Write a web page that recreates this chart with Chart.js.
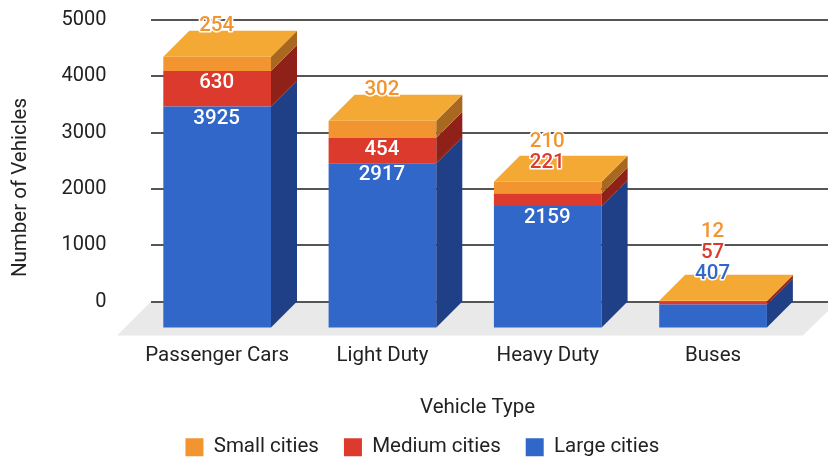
<!DOCTYPE html>
<html>
<head>
<meta charset="utf-8">
<title>Vehicles by type</title>
<script src="https://cdn.jsdelivr.net/npm/chart.js@4/dist/chart.umd.min.js"></script>
<style>
  html, body { margin: 0; padding: 0; background: #fff; }
  canvas { display: block; }
</style>
</head>
<body>
<canvas id="chart" width="828" height="457"></canvas>
<script>
const categories = ["Passenger Cars", "Light Duty", "Heavy Duty", "Buses"];
const largeCities = [3925, 2917, 2159, 407];
const mediumCities = [630, 454, 221, 57];
const smallCities = [254, 302, 210, 12];
const yTicks = [0, 1000, 2000, 3000, 4000, 5000];

const FONT = "Roboto, sans-serif";
const TEXT = "#222";
const DEPTH_X = 26;
const DEPTH_Y = 26;

const FACES = [
  { front: "#3267ca", side: "#1f3f87", top: "#3267ca", label: "#3267ca" },
  { front: "#dc3a2c", side: "#8f2118", top: "#dc3a2c", label: "#dc3a2c" },
  { front: "#f2942f", side: "#a8681f", top: "#f3a933", label: "#f2942f" },
];

function poly(ctx, pts, fill) {
  ctx.beginPath();
  pts.forEach(([x, y], i) => (i ? ctx.lineTo(x, y) : ctx.moveTo(x, y)));
  ctx.closePath();
  ctx.fillStyle = fill;
  ctx.fill();
}

/* ── 3D look: floor, back wall grid, extruded faces ────── */
const depthPlugin = {
  id: "depth",
  beforeDatasetsDraw(chart) {
    const { ctx, chartArea, scales: { y } } = chart;
    const y0 = y.getPixelForValue(0);
    const left = chartArea.left + 16.5;

    // floor
    poly(ctx, [
      [left, y0],
      [chartArea.right + 42, y0],
      [chartArea.right + 7, y0 + 34],
      [chartArea.left - 17.5, y0 + 34],
    ], "#e9e9e9");

    // grid lines sit on the back wall and run off the right edge
    ctx.save();
    ctx.strokeStyle = "#555";
    ctx.lineWidth = 2;
    for (const t of y.ticks) {
      const py = Math.round(y.getPixelForValue(t.value));
      ctx.beginPath();
      ctx.moveTo(left, py);
      ctx.lineTo(chart.width, py);
      ctx.stroke();
    }
    ctx.restore();

    // bars are the front plane, so push them down by the depth
    ctx.save();
    ctx.translate(0, DEPTH_Y);
  },
  afterDatasetsDraw(chart) {
    const { ctx } = chart;
    ctx.restore();

    chart.data.datasets.forEach((ds, i) => {
      const face = FACES[i];
      chart.getDatasetMeta(i).data.forEach((bar) => {
        const r = bar.x + bar.width / 2;
        const l = bar.x - bar.width / 2;
        const top = bar.y + DEPTH_Y;
        const bottom = bar.base + DEPTH_Y;
        poly(ctx, [
          [r, top], [r + DEPTH_X, top - DEPTH_Y],
          [r + DEPTH_X, bottom - DEPTH_Y], [r, bottom],
        ], face.side);
        if (i === chart.data.datasets.length - 1) {
          poly(ctx, [
            [l, top], [l + DEPTH_X, top - DEPTH_Y],
            [r + DEPTH_X, top - DEPTH_Y], [r, top],
          ], face.top);
        }
      });
    });
  },
  afterLayout(chart) {
    // pin the value scale to the back wall, the auto layout leaves it too short
    const y = chart.scales.y;
    y.top = chart.chartArea.top = 20;
    y.bottom = chart.chartArea.bottom = 301.5;
    y.height = chart.chartArea.height = y.bottom - y.top;
    y.configure();

    // legend is not centred on the canvas in the original
    const legend = chart.legend;
    legend.left += 24.5;
    legend.right += 24.5;
    legend.top = 412;
    legend.bottom = 457;
  },
  afterDraw(chart) {
    const { ctx, scales: { x } } = chart;
    ctx.save();
    ctx.textAlign = "center";
    ctx.textBaseline = "middle";
    ctx.lineJoin = "round";

    // value labels: white inside tall segments, otherwise coloured above the bar
    ctx.font = "500 20.5px " + FONT;
    categories.forEach((_, c) => {
      let prev = Infinity;
      chart.data.datasets.forEach((ds, i) => {
        const bar = chart.getDatasetMeta(i).data[c];
        const top = bar.y + DEPTH_Y;
        const inside = bar.base - bar.y > 24;
        let py;
        if (inside) {
          py = top + 12;
        } else {
          py = Math.min(top - 30.5, prev - 21);
          prev = py;
        }
        if (!inside) {
          ctx.strokeStyle = "#fff";
          ctx.lineWidth = 3;
          ctx.strokeText(ds.data[c], bar.x - 0.5, py);
        }
        ctx.fillStyle = inside ? "#fff" : FACES[i].label;
        ctx.fillText(ds.data[c], bar.x - 0.5, py);
      });
    });

    // axis titles are centred on the floor, not on the scales
    ctx.font = "20.5px " + FONT;
    ctx.fillStyle = TEXT;
    ctx.fillText("Vehicle Type", x.left + (x.right - x.left) / 2 + 12.5, 407.5);
    ctx.translate(21, 187.5);
    ctx.rotate(-Math.PI / 2);
    ctx.fillText("Number of Vehicles", 0, 0);
    ctx.restore();
  },
};

new Chart(document.getElementById("chart"), {
  type: "bar",
  data: {
    labels: categories,
    datasets: [
      { label: "Large cities", data: largeCities, backgroundColor: FACES[0].front, clip: false },
      { label: "Medium cities", data: mediumCities, backgroundColor: FACES[1].front, clip: false },
      { label: "Small cities", data: smallCities, backgroundColor: FACES[2].front, clip: false },
    ],
  },
  options: {
    responsive: false,
    animation: false,
    layout: { padding: { left: 0, right: 32.3, top: 2, bottom: 0 } },
    datasets: { bar: { barPercentage: 1, categoryPercentage: 0.6515 } },
    plugins: {
      tooltip: { enabled: false },
      legend: {
        position: "bottom",
        reverse: true,
        labels: {
          boxWidth: 18,
          boxHeight: 18,
          padding: 25,
          color: TEXT,
          font: { family: FONT, size: 20.5 },
        },
      },
    },
    scales: {
      x: {
        stacked: true,
        grid: { display: false },
        border: { display: false },
        ticks: { color: TEXT, font: { family: FONT, size: 20.5 }, padding: 34, maxRotation: 0 },
        afterFit: (s) => { s.height = 100; },
      },
      y: {
        stacked: true,
        min: 0,
        max: 5000,
        grid: { display: false },
        border: { display: false },
        afterBuildTicks: (s) => { s.ticks = yTicks.map((value) => ({ value })); },
        ticks: {
          color: TEXT,
          font: { family: FONT, size: 20 },
          padding: 20,
          callback: (v) => String(v),
        },
        afterFit: (s) => { s.width = 134.5; },
      },
    },
  },
  plugins: [depthPlugin],
});
</script>
</body>
</html>
